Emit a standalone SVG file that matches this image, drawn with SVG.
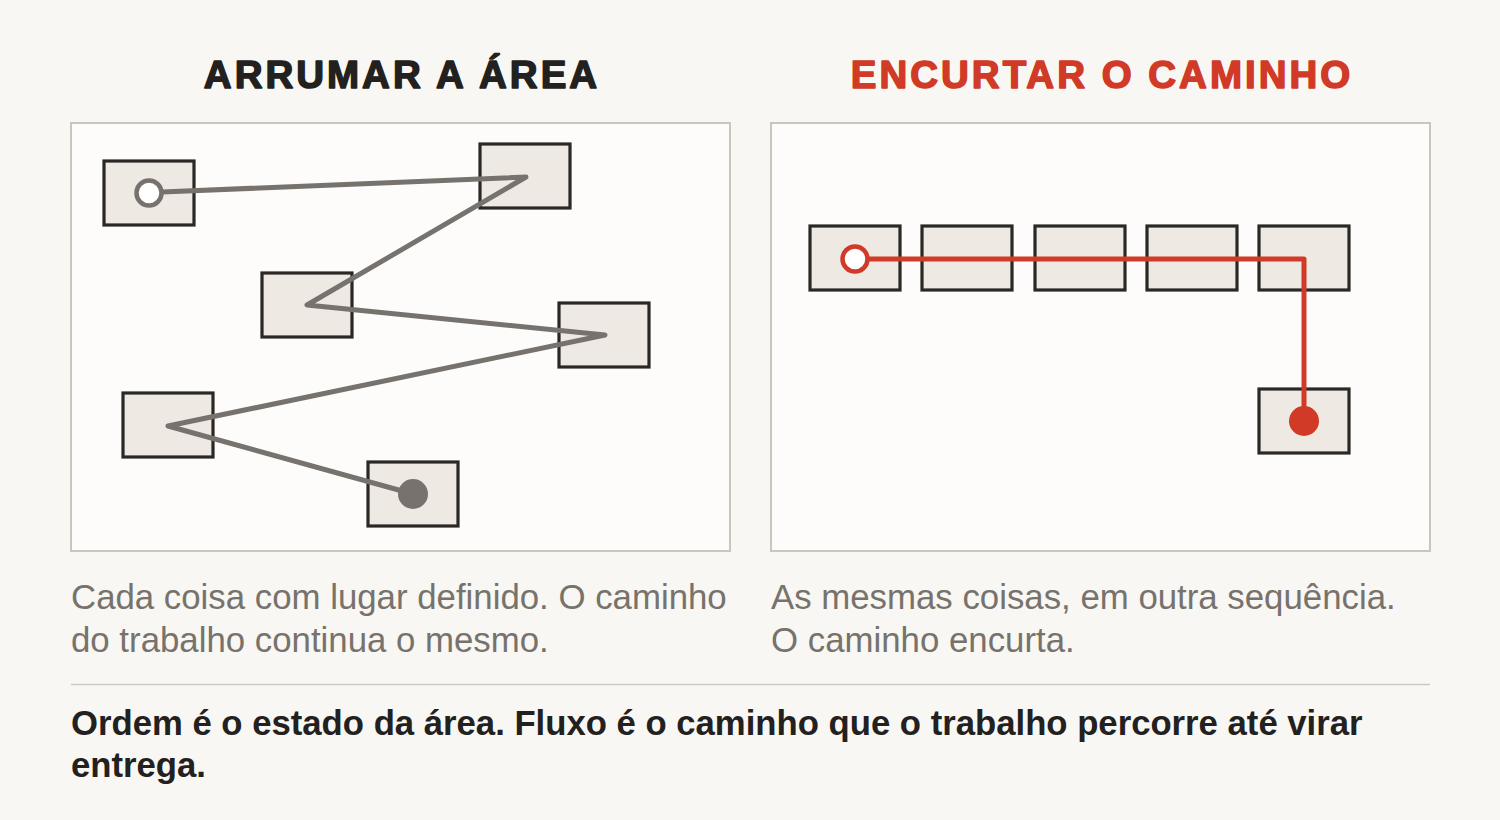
<svg xmlns="http://www.w3.org/2000/svg" width="1500" height="820" viewBox="0 0 1500 820">
<style>
.title{font-family:"Liberation Sans",Arial,sans-serif;font-weight:bold;font-size:38.5px;letter-spacing:3px;text-anchor:middle;stroke-width:1.5px;stroke-linejoin:round}
.panel{fill:#fdfcfa;stroke:#cbc6bd;stroke-width:2}
.box{fill:#eee9e3;stroke:#2a2826;stroke-width:3.2}
.cap{font-family:"Liberation Sans",Arial,sans-serif;font-size:34.8px;fill:#77726c}
.bold{font-family:"Liberation Sans",Arial,sans-serif;font-size:34.7px;font-weight:bold;fill:#232120}
.gpath{fill:none;stroke:#77726d;stroke-width:5;stroke-linejoin:round;stroke-linecap:round}
.rpath{fill:none;stroke:#d03a27;stroke-width:5;stroke-linejoin:round;stroke-linecap:round}
</style>
<rect x="0" y="0" width="1500" height="820" fill="#f8f7f3"/>
<g id="title-left"><text class="title" x="402" y="88" fill="#222120" stroke="#222120">ARRUMAR A ÁREA</text></g>
<g id="title-right"><text class="title" x="1102" y="88" fill="#d03a27" stroke="#d03a27">ENCURTAR O CAMINHO</text></g>
<g id="panel-left"><rect class="panel" x="71" y="123" width="659" height="428"/></g>
<g id="panel-right"><rect class="panel" x="771" y="123" width="659" height="428"/></g>
<g id="left-nodes">
<g id="l1"><rect class="box" x="104" y="161" width="90" height="64"/></g>
<g id="l2"><rect class="box" x="480" y="144" width="90" height="64"/></g>
<g id="l3"><rect class="box" x="262" y="273" width="90" height="64"/></g>
<g id="l4"><rect class="box" x="559" y="303" width="90" height="64"/></g>
<g id="l5"><rect class="box" x="123" y="393" width="90" height="64"/></g>
<g id="l6"><rect class="box" x="368" y="462" width="90" height="64"/></g>
</g>
<g id="right-nodes">
<g id="r1"><rect class="box" x="810" y="226" width="90" height="64"/></g>
<g id="r2"><rect class="box" x="922" y="226" width="90" height="64"/></g>
<g id="r3"><rect class="box" x="1035" y="226" width="90" height="64"/></g>
<g id="r4"><rect class="box" x="1147" y="226" width="90" height="64"/></g>
<g id="r5"><rect class="box" x="1259" y="226" width="90" height="64"/></g>
<g id="r6"><rect class="box" x="1259" y="389" width="90" height="64"/></g>
</g>
<g id="connectors">
<polyline class="gpath" points="162,192 526,177 307,305 605,335 168,426 413,494"/>
<circle cx="149" cy="193" r="12.5" fill="#ffffff" stroke="#77726d" stroke-width="4.5"/>
<circle cx="413" cy="494" r="15" fill="#77726d"/>
<polyline class="rpath" points="868,259 1304,259 1304,421"/>
<circle cx="855" cy="259" r="12.5" fill="#ffffff" stroke="#d03a27" stroke-width="4.5"/>
<circle cx="1304" cy="421" r="15" fill="#d03a27"/>
</g>
<g id="captions">
<text class="cap" x="71" y="609">Cada coisa com lugar definido. O caminho</text>
<text class="cap" x="71" y="652">do trabalho continua o mesmo.</text>
<text class="cap" x="771" y="609">As mesmas coisas, em outra sequência.</text>
<text class="cap" x="771" y="652">O caminho encurta.</text>
</g>
<line x1="71" y1="684.5" x2="1430" y2="684.5" stroke="#cdc9c2" stroke-width="1.5"/>
<g id="footer">
<text class="bold" x="71" y="735">Ordem é o estado da área. Fluxo é o caminho que o trabalho percorre até virar</text>
<text class="bold" x="71" y="777">entrega.</text>
</g>
</svg>
